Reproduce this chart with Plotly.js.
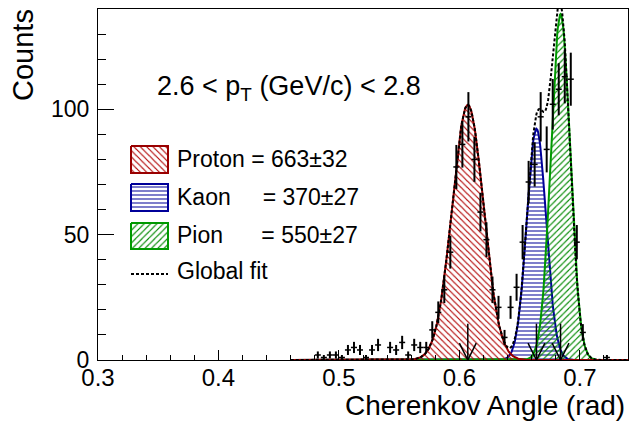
<!DOCTYPE html>
<html>
<head>
<meta charset="utf-8">
<script src="https://cdn.plot.ly/plotly-3.0.1.min.js"></script>
<style>
  html, body { margin: 0; padding: 0; background: #fff; }
  #chart { width: 631px; height: 424px; }
</style>
</head>
<body>
<div id="chart"></div>
<script>
// Histogram of reconstructed Cherenkov angles (bin centres, rad) and entries
const angleBins = [
  0.4825, 0.4875, 0.4925, 0.4975, 0.5025, 0.5075, 0.5125, 0.5175, 0.5225, 0.5275,
  0.5325, 0.5425, 0.5475, 0.5525, 0.5575, 0.5625, 0.5675, 0.5725, 0.5775, 0.5825,
  0.5875, 0.5925, 0.5975, 0.6025, 0.6075, 0.6125, 0.6175, 0.6225, 0.6275, 0.6325,
  0.6375, 0.6425, 0.6475, 0.6525, 0.6575, 0.6625, 0.6675, 0.6725, 0.6775, 0.6825,
  0.6875, 0.6925, 0.6975, 0.7025, 0.7225
];
const counts = [
  2, 1, 2, 2, 1, 4, 5, 4, 1, 4,
  6, 5, 4, 7, 2, 6, 5, 5, 12, 19,
  28, 43, 77, 86, 97, 80, 59, 48, 28, 21,
  9, 21, 29, 47, 71, 78, 97, 84, 102, 108,
  113, 112, 47, 11, 1
];
const binWidth = 0.005;

// Gaussian components of the fit
const species   = ['Proton', 'Kaon', 'Pion'];
const yields    = [663, 370, 550];
const yieldErrs = [32, 27, 27];
const means     = [0.607, 0.664, 0.684];
const sigmas    = [0.0130, 0.0080, 0.00795];
const fitRange  = [0.46, 0.74];

// Axis labels and header
const xTitle = 'Cherenkov Angle (rad)';
const yTitle = 'Counts';
const ptLabel = '2.6 &lt; p<sub>T</sub> (GeV/c) &lt; 2.8';
const legendNames = ['Proton\u00a0=\u00a0', 'Kaon\u00a0\u00a0\u00a0\u00a0\u00a0=\u00a0', 'Pion\u00a0\u00a0\u00a0\u00a0\u00a0\u00a0=\u00a0'];

// ---- styling ----
const FONT = 'Liberation Sans, Arial, Helvetica, sans-serif';
const lineColors  = ['#990000', '#000099', '#009900'];
const hatchColors = ['#b00000', '#2828a8', '#008800'];
const hatchShapes = ['\\', '-', '/'];
const hatchSizes  = [4.5, 4, 4.5];
const hatchSolid  = [0.25, 0.3, 0.25];

const W = 631, H = 424;
const M = { l: 98, r: 3, t: 9, b: 64 };
const plotW = W - M.l - M.r, plotH = H - M.t - M.b;
const px2paperX = px => (px - M.l) / plotW;
const px2paperY = py => (H - M.b - py) / plotH;

function gauss(x, i) {
  const amp = yields[i] * binWidth / (sigmas[i] * Math.sqrt(2 * Math.PI));
  const d = (x - means[i]) / sigmas[i];
  return amp * Math.exp(-0.5 * d * d);
}

const nSamples = 600;
const xs = [];
for (let k = 0; k <= nSamples; k++) xs.push(fitRange[0] + (fitRange[1] - fitRange[0]) * k / nSamples);

const pattern = i => ({ shape: hatchShapes[i], fgcolor: hatchColors[i], bgcolor: 'rgba(0,0,0,0)',
                        size: hatchSizes[i], solidity: hatchSolid[i] });

const traces = [];
// component curves (hatched): kaon, pion, proton
[1, 2, 0].forEach(i => {
  traces.push({
    type: 'scatter', mode: 'lines', x: xs, y: xs.map(x => gauss(x, i)),
    line: { color: lineColors[i], width: 2 },
    fill: 'tozeroy', fillcolor: 'rgba(0,0,0,0)', fillpattern: pattern(i),
    hoverinfo: 'skip', showlegend: false
  });
});
// global fit
traces.push({
  type: 'scatter', mode: 'lines', x: xs, y: xs.map(x => gauss(x, 0) + gauss(x, 1) + gauss(x, 2)),
  line: { color: '#000', width: 2, dash: '3px,2px' },
  hoverinfo: 'skip', showlegend: false
});
// data with Poisson errors
traces.push({
  type: 'scatter', mode: 'markers', x: angleBins, y: counts,
  marker: { size: 1, color: '#000' },
  error_y: { type: 'data', array: counts.map(n => Math.sqrt(n)), color: '#000', thickness: 2, width: 0 },
  error_x: { type: 'constant', value: binWidth / 2, color: '#000', thickness: 1.5, width: 0 },
  showlegend: false, hoverinfo: 'skip'
});
// arrows marking each species' angle
const arrowTop = 14.5, headH = 6.7, headW = 0.007;
means.forEach(m => {
  traces.push({
    type: 'scatter', mode: 'lines',
    x: [m, m, null, m - headW, m, m + headW],
    y: [arrowTop, 0, null, headH, 0, headH],
    line: { color: '#000', width: 1.5 }, hoverinfo: 'skip', showlegend: false
  });
});

// legend boxes on a pixel-space overlay
const boxX = [131, 168];
const boxY = [[146, 173], [184, 211], [223, 249]];
species.forEach((s, i) => {
  traces.push({
    type: 'scatter', mode: 'lines', xaxis: 'x2', yaxis: 'y2',
    x: [boxX[0], boxX[1], boxX[1], boxX[0], boxX[0]],
    y: [boxY[i][0], boxY[i][0], boxY[i][1], boxY[i][1], boxY[i][0]],
    fill: 'toself', fillcolor: 'rgba(0,0,0,0)', fillpattern: pattern(i),
    line: { color: lineColors[i], width: 2 }, hoverinfo: 'skip', showlegend: false
  });
});
traces.push({
  type: 'scatter', mode: 'lines', xaxis: 'x2', yaxis: 'y2',
  x: [131, 168], y: [274, 274],
  line: { color: '#000', width: 2, dash: '3px,2px' }, hoverinfo: 'skip', showlegend: false
});

const annotations = [];
const txt = (text, px, py, size, extra) => Object.assign({
  text, xref: 'paper', yref: 'paper', x: px2paperX(px), y: px2paperY(py),
  xanchor: 'left', yanchor: 'middle', showarrow: false,
  font: { family: FONT, size, color: '#000' }
}, extra || {});

annotations.push(txt(ptLabel, 155, 88, 27));
const rowY = [159, 197, 235];
species.forEach((s, i) => {
  annotations.push(txt(legendNames[i] + yields[i] + '\u00b1' + yieldErrs[i], 175, rowY[i], 23));
});
annotations.push(txt('Global fit', 175, 271, 23));
annotations.push(txt(xTitle, 627, 423, 28, { xanchor: 'right', yanchor: 'bottom' }));
annotations.push(txt(yTitle, 23, 7, 29, { xanchor: 'center', yanchor: 'top', textangle: -90 }));

const layout = {
  width: W, height: H,
  margin: M,
  paper_bgcolor: '#fff', plot_bgcolor: '#fff',
  font: { family: FONT, color: '#000' },
  showlegend: false,
  xaxis: {
    range: [0.3, 0.74], tickvals: [0.3, 0.4, 0.5, 0.6, 0.7], ticktext: ['0.3', '0.4', '0.5', '0.6', '0.7'],
    ticks: 'inside', ticklen: 10.5, tickwidth: 1, tickcolor: '#000', ticklabelstandoff: -4,
    minor: { dtick: 0.02, tick0: 0.3, ticks: 'inside', ticklen: 5.3, tickcolor: '#000', tickwidth: 1 },
    showline: true, mirror: true, linecolor: '#000', linewidth: 1,
    showgrid: false, zeroline: false, tickfont: { family: FONT, size: 24 }
  },
  yaxis: {
    range: [0, 140], tickvals: [0, 50, 100], ticktext: ['0', '50', '100'],
    ticks: 'inside', ticklen: 15.9, tickwidth: 1, tickcolor: '#000', ticklabelstandoff: 3,
    minor: { dtick: 10, tick0: 0, ticks: 'inside', ticklen: 8, tickcolor: '#000', tickwidth: 1 },
    showline: true, mirror: true, linecolor: '#000', linewidth: 1,
    showgrid: false, zeroline: false, tickfont: { family: FONT, size: 23 }
  },
  xaxis2: { overlaying: 'x', range: [M.l, W - M.r], visible: false, fixedrange: true },
  yaxis2: { overlaying: 'y', range: [H - M.b, M.t], visible: false, fixedrange: true },
  annotations
};

Plotly.newPlot('chart', traces, layout, { staticPlot: true });
</script>
</body>
</html>
